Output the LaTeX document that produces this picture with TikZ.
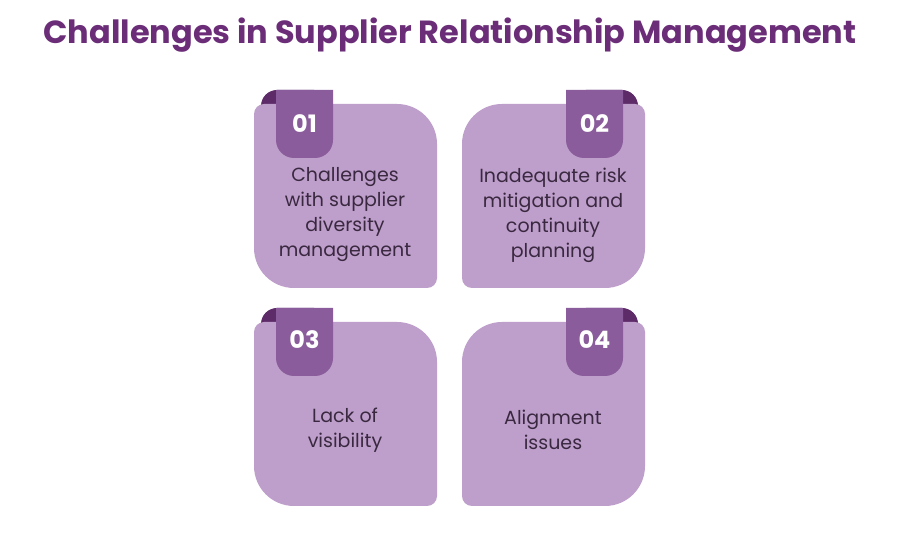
\documentclass[tikz,border=0pt]{standalone}
\usepackage{fontspec}
\setmainfont{Poppins}
\definecolor{titlepurple}{HTML}{6B2D78}
\definecolor{cardfill}{HTML}{BE9FCB}
\definecolor{badgefill}{HTML}{8A5C9B}
\definecolor{stripfill}{HTML}{5C2B68}
\definecolor{bodytext}{HTML}{3A2840}
\tikzset{
  card text/.style={text=bodytext, font=\fontsize{9.5}{12.5}\selectfont, align=center},
  badge text/.style={text=white, font=\bfseries\fontsize{12}{12}\selectfont}
}
% card: x0, bottom, rTL, rTR, rBR, rBL
\newcommand{\cardshape}[6]{%
  \fill[cardfill] (#1+#3,#2+184) -- (#1+183-#4,#2+184) arc[start angle=90,end angle=0,radius=#4]
    -- (#1+183,#2+#5) arc[start angle=0,end angle=-90,radius=#5]
    -- (#1+#6,#2) arc[start angle=270,end angle=180,radius=#6]
    -- (#1,#2+184-#3) arc[start angle=180,end angle=90,radius=#3] -- cycle;}
% badge: left x, top y
\newcommand{\badgeshape}[2]{%
  \fill[badgefill] (#1,#2) -- (#1+57,#2) -- (#1+57,#2-50) arc[start angle=0,end angle=-90,radius=18]
    -- (#1+18,#2-68) arc[start angle=270,end angle=180,radius=18] -- cycle;}
\begin{document}
\begin{tikzpicture}[x=0.5pt,y=0.5pt]
  \useasboundingbox[fill=white] (0,0) rectangle (900,535);

  % Title
  \node[text=titlepurple, font=\bfseries\fontsize{16}{16}\selectfont] (title) at (450,500)
    {Challenges in Supplier Relationship Management};

  % Dark strips behind the badges
  \fill[stripfill, rounded corners=8] (261,425) -- (261,445) -- (330,445) -- (330,425);
  \fill[stripfill, rounded corners=8] (570,425) -- (570,445) -- (638,445) -- (638,425);
  \fill[stripfill, rounded corners=8] (261,209) -- (261,227) -- (330,227) -- (330,209);
  \fill[stripfill, rounded corners=8] (570,209) -- (570,227) -- (638,227) -- (638,209);

  % Cards
  \cardshape{254}{247}{10}{40}{10}{40}
  \cardshape{462}{247}{40}{10}{40}{10}
  \cardshape{254}{29}{10}{40}{10}{40}
  \cardshape{462}{29}{40}{10}{40}{10}

  % Badges
  \badgeshape{276}{445}
  \badgeshape{566}{445}
  \badgeshape{276}{227}
  \badgeshape{566}{227}

  % Numbers
  \node[badge text] (n1) at (304.5,411) {01};
  \node[badge text] (n2) at (594.5,411) {02};
  \node[badge text] (n3) at (304.5,195) {03};
  \node[badge text] (n4) at (594.5,195) {04};

  % Card texts
  \node[card text] (c1) at (345,320) {Challenges\\with supplier\\diversity\\management};
  \node[card text] (c2) at (553,320) {Inadequate risk\\mitigation and\\continuity\\planning};
  \node[card text] (c3) at (345,105) {Lack of\\visibility};
  \node[card text] (c4) at (553,105) {Alignment\\issues};

\end{tikzpicture}
\end{document}
